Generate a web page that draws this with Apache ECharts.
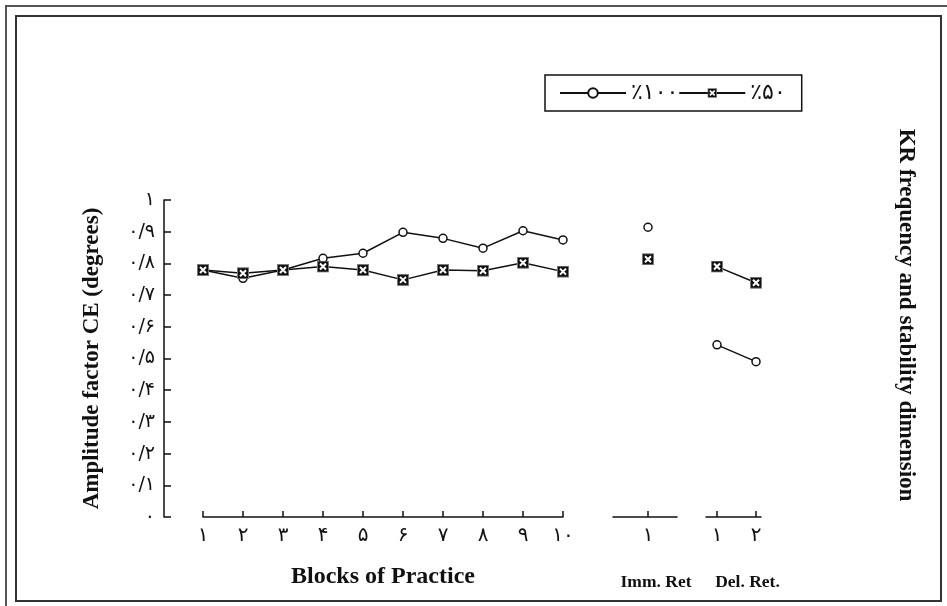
<!DOCTYPE html>
<html>
<head>
<meta charset="utf-8">
<script src="https://cdn.jsdelivr.net/npm/echarts@6/dist/echarts.min.js"></script>
<style>
html,body{margin:0;padding:0;background:#fff;}
#chart{width:947px;height:606px;}
</style>
</head>
<body>
<div id="chart"></div>
<script>
// ---- data ----
var blocks = [1, 2, 3, 4, 5, 6, 7, 8, 9, 10];
var immTicks = [1];
var delTicks = [1, 2];
var name100 = '٪۱۰۰';
var name50 = '٪۵۰';
var pct100Blocks = [0.779, 0.753, 0.779, 0.816, 0.832, 0.898, 0.879, 0.848, 0.903, 0.874];
var pct50Blocks  = [0.779, 0.769, 0.779, 0.790, 0.779, 0.748, 0.779, 0.777, 0.802, 0.774];
var pct100Imm = [0.914];
var pct50Imm  = [0.813];
var pct100Del = [0.543, 0.490];
var pct50Del  = [0.790, 0.739];

var titleY = 'Amplitude factor CE (degrees)';
var titleX = 'Blocks of Practice';
var titleImm = 'Imm. Ret';
var titleDel = 'Del. Ret.';
var titleRight = 'KR frequency and stability dimension';

// ---- helpers ----
var faDigits = ['۰','۱','۲','۳','۴','۵','۶','۷','۸','۹'];
function toFa(n){ return String(n).replace(/[0-9]/g, function(d){ return faDigits[+d]; }); }
function yLabel(v){
  var r = Math.round(v*10);
  if (r === 0) return '۰';
  if (r === 10) return '۱';
  return '۰/' + toFa(r);
}
var sqSvg = "<svg xmlns='http://www.w3.org/2000/svg' width='12' height='12'>" +
  "<rect x='0.5' y='0.5' width='11' height='11' fill='#111' stroke='#777' stroke-width='1'/>" +
  "<path d='M3 3L9 9M9 3L3 9' stroke='#fff' stroke-width='2'/></svg>";
var sqSymbol = 'image://data:image/svg+xml;charset=utf-8,' + encodeURIComponent(sqSvg);

var serif = '"Liberation Serif", "Times New Roman", serif';
var fa = '"DejaVu Sans", sans-serif';
var ink = '#111';

function pairs(xs, ys){ return xs.map(function(x,i){ return [x, ys[i]]; }); }

var circleStyle = { symbol: 'circle', symbolSize: 8, itemStyle: { color: '#fff', borderColor: ink, borderWidth: 1.5 } };
var squareStyle = { symbol: sqSymbol, symbolSize: 12, itemStyle: { color: ink } };
var lineStyle = { color: ink, width: 1.5 };

function mkSeries(name, idx, data, sty, z){
  return Object.assign({
    type: 'line', name: name, xAxisIndex: idx, yAxisIndex: idx, data: data,
    lineStyle: lineStyle, showSymbol: true, animation: false, z: z
  }, sty);
}

var chart = echarts.init(document.getElementById('chart'), null, {renderer: 'canvas'});

var hiddenY = function(i){ return { gridIndex: i, type: 'value', min: 0, max: 1, show: false }; };

var option = {
  backgroundColor: '#fff',
  animation: false,
  grid: [
    { left: 203, top: 200, width: 360, height: 317 },
    { left: 613, top: 200, width: 64, height: 317 },
    { left: 706, top: 200, width: 55, height: 317 }
  ],
  legend: {
    left: 545, top: 75,
    padding: [7, 16, 7, 14],
    borderColor: ink, borderWidth: 1.5,
    itemWidth: 66, itemHeight: 12, itemGap: 0,
    data: [name100, name50],
    textStyle: { fontFamily: fa, fontSize: 22, color: ink }
  },
  xAxis: [
    {
      gridIndex: 0, type: 'category', boundaryGap: false,
      data: blocks.map(toFa),
      axisLine: { lineStyle: { color: ink, width: 1.5 } },
      axisTick: { inside: true, length: 6, lineStyle: { color: ink, width: 1.5 } },
      axisLabel: { color: ink, fontFamily: fa, fontSize: 20, margin: 9 },
      splitLine: { show: false },
      name: titleX, nameLocation: 'middle', nameGap: 48,
      nameTextStyle: { fontFamily: serif, fontWeight: 'bold', fontSize: 24, color: ink }
    },
    {
      gridIndex: 1, type: 'value', min: 0, max: 64/35,
      axisLine: { lineStyle: { color: ink, width: 1.5 } },
      axisTick: { inside: true, length: 6, customValues: immTicks, lineStyle: { color: ink, width: 1.5 } },
      axisLabel: { customValues: immTicks, formatter: function(v){ return toFa(v); }, color: ink, fontFamily: fa, fontSize: 20, margin: 9 },
      splitLine: { show: false },
      name: titleImm, nameLocation: 'middle', nameGap: 56,
      nameTextStyle: { fontFamily: serif, fontWeight: 'bold', fontSize: 17.5, color: ink, padding: [0, 0, 0, 22] }
    },
    {
      gridIndex: 2, type: 'value', min: 1 - 11/39, max: 1 - 11/39 + 55/39,
      axisLine: { lineStyle: { color: ink, width: 1.5 } },
      axisTick: { inside: true, length: 6, customValues: delTicks, lineStyle: { color: ink, width: 1.5 } },
      axisLabel: { customValues: delTicks, formatter: function(v){ return toFa(v); }, color: ink, fontFamily: fa, fontSize: 20, margin: 9 },
      splitLine: { show: false },
      name: titleDel, nameLocation: 'middle', nameGap: 56,
      nameTextStyle: { fontFamily: serif, fontWeight: 'bold', fontSize: 17.5, color: ink, padding: [0, 0, 0, 28] }
    }
  ],
  yAxis: [
    {
      gridIndex: 0, type: 'value', min: 0, max: 1, interval: 0.1, offset: 39,
      axisLine: { show: true, lineStyle: { color: ink, width: 1.5 } },
      axisTick: { show: true, inside: true, length: 7, lineStyle: { color: ink, width: 1.5 } },
      axisLabel: { formatter: yLabel, color: ink, fontFamily: fa, fontSize: 19, margin: 9 },
      splitLine: { show: false },
      name: titleY, nameLocation: 'middle', nameGap: 60, nameRotate: 90,
      nameTextStyle: { fontFamily: serif, fontWeight: 'bold', fontSize: 23, color: ink }
    },
    hiddenY(1), hiddenY(2)
  ],
  series: [
    mkSeries(name100, 0, pct100Blocks, circleStyle, 2),
    mkSeries(name50, 0, pct50Blocks, squareStyle, 3),
    mkSeries(name100, 1, pairs(immTicks, pct100Imm), circleStyle, 2),
    mkSeries(name50, 1, pairs(immTicks, pct50Imm), squareStyle, 3),
    mkSeries(name100, 2, pairs(delTicks, pct100Del), circleStyle, 2),
    mkSeries(name50, 2, pairs(delTicks, pct50Del), squareStyle, 3)
  ],
  graphic: [
    { type: 'rect', shape: { x: 16, y: 16, width: 925, height: 585 }, style: { fill: null, stroke: '#333', lineWidth: 2 }, z: -1 },
    { type: 'polyline', shape: { points: [[6, 606], [6, 6], [947, 6]] }, style: { fill: null, stroke: '#555', lineWidth: 2 }, z: -1 },
    { type: 'text', x: 906, y: 315, rotation: -Math.PI/2,
      style: { text: titleRight, font: 'bold 23px ' + serif, fill: ink, textAlign: 'center', textVerticalAlign: 'middle' } }
  ]
};
chart.setOption(option);
</script>
</body>
</html>
